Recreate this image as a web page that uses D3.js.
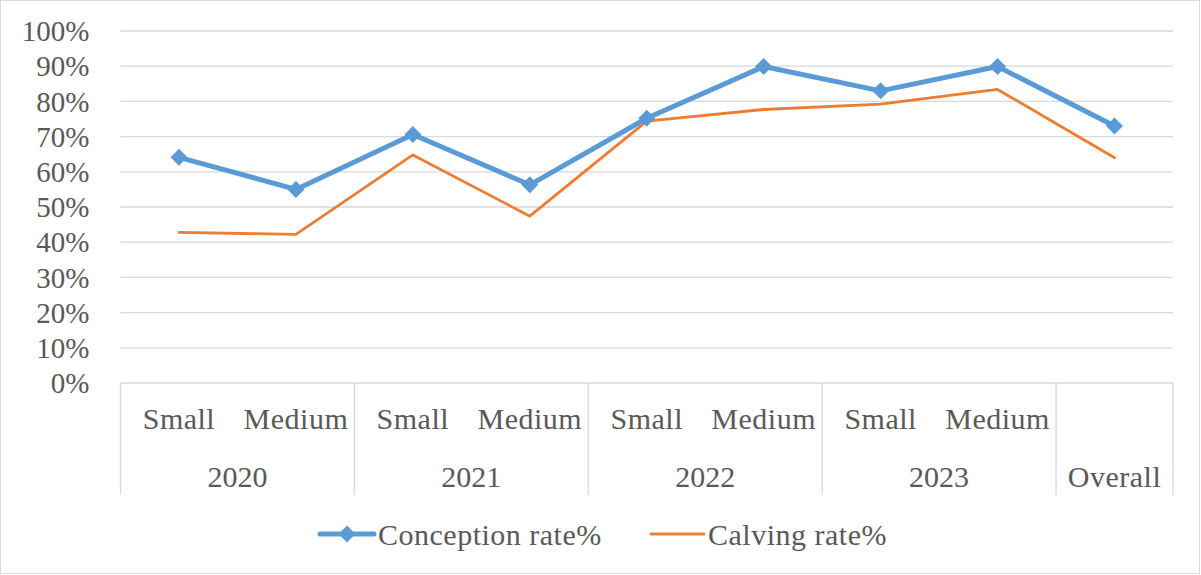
<!DOCTYPE html>
<html><head><meta charset="utf-8">
<script src="https://cdn.jsdelivr.net/npm/d3@7"></script>
<style>html,body{margin:0;padding:0;background:#fff;}</style>
</head><body><svg id="c" width="1201" height="575"></svg>
<script>
const years = ["2020","2021","2022","2023","Overall"];
const groups = [["Small","Medium"],["Small","Medium"],["Small","Medium"],["Small","Medium"],[""]];
const conception = [64.1, 55.0, 70.6, 56.3, 75.2, 89.9, 83.0, 89.9, 73.0];
const calving = [42.8, 42.2, 64.8, 47.4, 74.4, 77.7, 79.2, 83.4, 64.0];
const yTicks = [0,10,20,30,40,50,60,70,80,90,100];
const seriesNames = ["Conception rate%","Calving rate%"];

const svg = d3.select("#c");
const txt = "#595959", grid = "#d9d9d9";
const blue = "#5B9BD5", orange = "#ED7D31";
const fs = 30;
const FF = "Liberation Serif";
const word = s => /[A-Za-z]/.test(s) ? "0.5px" : "0px";
svg.append("rect").attr("x",0.5).attr("y",0.5).attr("width",1199).attr("height",573)
  .attr("fill","#fff").attr("stroke",grid);

const L = 120.5, R = 1173, T = 31, B = 383;
const cats = [];
groups.forEach((g,gi)=>g.forEach((s,si)=>cats.push(gi+"_"+si)));
const x = d3.scaleBand().domain(cats).range([L,R]);
const y = d3.scaleLinear().domain([0,100]).range([B,T]);

// gridlines
svg.append("g").selectAll("line").data(yTicks.filter(d=>d>0)).join("line")
  .attr("x1",L).attr("x2",R).attr("y1",d=>y(d)).attr("y2",d=>y(d))
  .attr("stroke",grid).attr("stroke-width",1.3);

// y axis labels
svg.append("g").selectAll("text").data(yTicks).join("text")
  .attr("x",89.5).attr("y",d=>y(d)).attr("dy","0.35em").attr("text-anchor","end")
  .style("font-family",FF).style("font-size","29px").attr("fill",txt)
  .text(d=>d+"%");

// category axis
svg.append("line").attr("x1",L).attr("x2",R).attr("y1",B).attr("y2",B)
  .attr("stroke",grid).attr("stroke-width",1.3);
const bounds = [];
groups.forEach((g,gi)=>{
  const first = x(gi+"_0");
  bounds.push(first);
  const last = x(gi+"_"+(g.length-1)) + x.bandwidth();
  if (gi===groups.length-1) bounds.push(last);
  g.forEach((s,si)=>{
    svg.append("text").attr("x",x(gi+"_"+si)+x.bandwidth()/2).attr("y",429)
      .attr("text-anchor","middle").style("font-family",FF).style("font-size",fs+"px")
      .style("letter-spacing",word(s)).attr("fill",txt).text(s);
  });
  svg.append("text").attr("x",(first+last)/2).attr("y",487)
    .attr("text-anchor","middle").style("font-family",FF).style("font-size",fs+"px")
    .style("letter-spacing",word(years[gi])).attr("fill",txt).text(years[gi]);
});
svg.append("g").selectAll("line").data(bounds).join("line")
  .attr("x1",d=>d).attr("x2",d=>d).attr("y1",B).attr("y2",495)
  .attr("stroke",grid).attr("stroke-width",1.3);

const cx = i => x(cats[i]) + x.bandwidth()/2;
const line = d3.line().x((d,i)=>cx(i)).y(d=>y(d));
svg.append("path").datum(calving).attr("d",line).attr("fill","none")
  .attr("stroke",orange).attr("stroke-width",2.8).attr("stroke-linejoin","round").attr("stroke-linecap","round");
svg.append("path").datum(conception).attr("d",line).attr("fill","none")
  .attr("stroke",blue).attr("stroke-width",5).attr("stroke-linejoin","round").attr("stroke-linecap","round");
const diamond = (px,py,r)=>`M${px},${py-r}L${px+r},${py}L${px},${py+r}L${px-r},${py}Z`;
svg.append("g").selectAll("path").data(conception).join("path")
  .attr("d",(d,i)=>diamond(cx(i),y(d),8.5)).attr("fill",blue);

// legend
const ly = 534;
svg.append("line").attr("x1",320).attr("x2",374).attr("y1",ly).attr("y2",ly)
  .attr("stroke",blue).attr("stroke-width",5).attr("stroke-linecap","round");
svg.append("path").attr("d",diamond(347,ly,8.5)).attr("fill",blue);
svg.append("text").attr("x",378).attr("y",ly).attr("dy","0.35em")
  .style("font-family",FF).style("font-size",fs+"px").style("letter-spacing","0.5px")
  .attr("fill",txt).text(seriesNames[0]);
svg.append("line").attr("x1",651).attr("x2",704).attr("y1",ly).attr("y2",ly)
  .attr("stroke",orange).attr("stroke-width",2.8).attr("stroke-linecap","round");
svg.append("text").attr("x",708).attr("y",ly).attr("dy","0.35em")
  .style("font-family",FF).style("font-size",fs+"px").style("letter-spacing","0.5px")
  .attr("fill",txt).text(seriesNames[1]);
</script></body></html>
